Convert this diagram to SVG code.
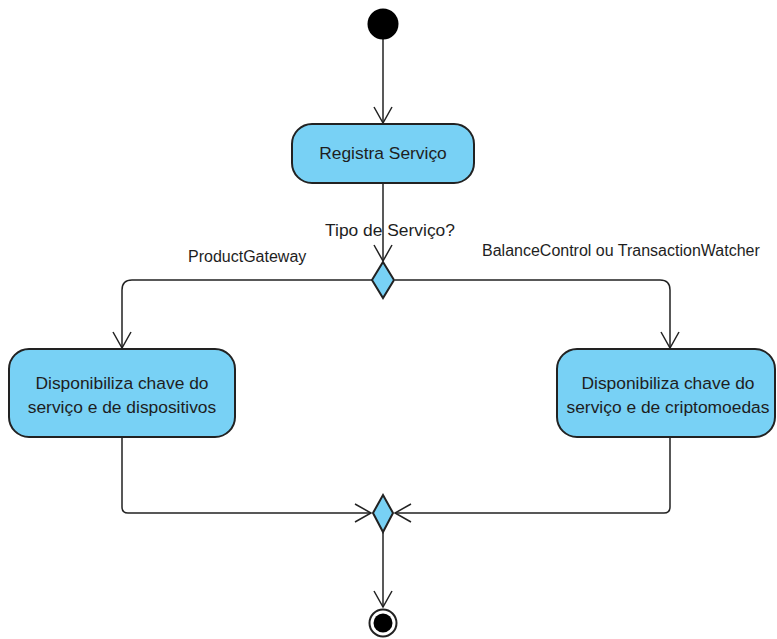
<svg xmlns="http://www.w3.org/2000/svg" width="777" height="639" viewBox="0 0 777 639">
  <style>
    .act { fill: #78d1f5; stroke: #222; stroke-width: 2; }
    .dec { fill: #78d1f5; stroke: #222; stroke-width: 2; }
    .flow { fill: none; stroke: #222; stroke-width: 1.5; marker-end: url(#open); }
    .lbl { font-family: "Liberation Sans", Arial, sans-serif; fill: #1e1e1e; }
    .box { font-size: 17.4px; text-anchor: middle; }
    .edge { font-size: 16px; }
  </style>
  <defs>
    <marker id="open" viewBox="-17 -10 19 20" refX="0" refY="0" markerWidth="19" markerHeight="20" markerUnits="userSpaceOnUse" orient="auto">
      <path d="M -16 -9 L 0 0 L -16 9" fill="none" stroke="#222" stroke-width="1.5"/>
    </marker>
  </defs>
  <rect width="777" height="639" fill="#fff"/>

  <g id="connectors">
    <path class="flow" d="M 383 39 L 383 123"/>
    <path class="flow" d="M 383 183 L 383 261"/>
    <path class="flow" d="M 372 280 L 132 280 Q 122 280 122 290 L 122 348"/>
    <path class="flow" d="M 395 280 L 660 280 Q 670 280 670 290 L 670 348"/>
    <path class="flow" d="M 122 437 L 122 507 Q 122 513 128 513 L 371 513"/>
    <path class="flow" d="M 670 437 L 670 507 Q 670 513 664 513 L 395 513"/>
    <path class="flow" d="M 383 532 L 383 607"/>
  </g>

  <g id="start">
    <circle cx="383" cy="24" r="15.5" fill="#000"/>
  </g>

  <g id="registra">
    <rect class="act" x="292" y="124" width="182" height="59" rx="20"/>
    <text class="lbl box" x="383" y="159">Registra Serviço</text>
  </g>

  <g id="decisao">
    <polygon class="dec" points="383,262 394,280 383,298 372,280"/>
    <text class="lbl" x="390" y="236" font-size="17.4" text-anchor="middle">Tipo de Serviço?</text>
  </g>

  <g id="label-product">
    <text class="lbl edge" x="188" y="262">ProductGateway</text>
  </g>
  <g id="label-balance">
    <text class="lbl edge" x="482" y="256">BalanceControl ou TransactionWatcher</text>
  </g>

  <g id="dispositivos">
    <rect class="act" x="9" y="349" width="226" height="88" rx="20"/>
    <text class="lbl box" x="122" y="389">Disponibiliza chave do</text>
    <text class="lbl box" x="122" y="413">serviço e de dispositivos</text>
  </g>

  <g id="criptomoedas">
    <rect class="act" x="557" y="349" width="218" height="88" rx="20"/>
    <text class="lbl box" x="668" y="389">Disponibiliza chave do</text>
    <text class="lbl box" x="668" y="413">serviço e de criptomoedas</text>
  </g>

  <g id="juncao">
    <polygon class="dec" points="383,495 393,513 383,532 373,513"/>
  </g>

  <g id="fim">
    <circle cx="383" cy="623" r="13.5" fill="#fff" stroke="#222" stroke-width="2"/>
    <circle cx="383" cy="623" r="9.5" fill="#000"/>
  </g>
</svg>
